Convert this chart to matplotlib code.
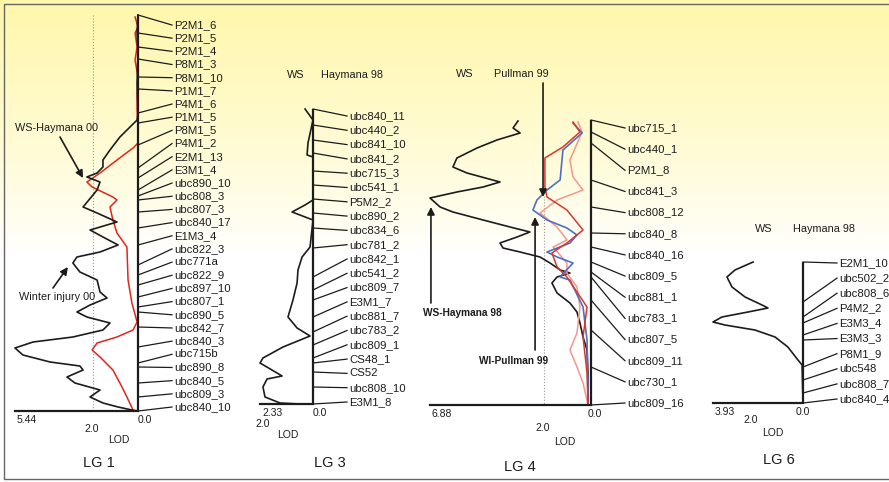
import numpy as np
import matplotlib.pyplot as plt

plt.rcParams['font.family'] = ['Liberation Sans', 'DejaVu Sans']

W, H = 889, 482
INK = '#1c1c1c'

# ---------------- data (positions in cM, LOD scores) ----------------
lod_max = {'LG 1': 5.44, 'LG 3': 2.33, 'LG 4': 6.88, 'LG 6': 3.93}

lg1_markers = ['P2M1_6', 'P2M1_5', 'P2M1_4', 'P8M1_3', 'P8M1_10', 'P1M1_7', 'P4M1_6',
               'P1M1_5', 'P8M1_5', 'P4M1_2', 'E2M1_13', 'E3M1_4', 'ubc890_10', 'ubc808_3',
               'ubc807_3', 'ubc840_17', 'E1M3_4', 'ubc822_3', 'ubc771a', 'ubc822_9',
               'ubc897_10', 'ubc807_1', 'ubc890_5', 'ubc842_7', 'ubc840_3', 'ubc715b',
               'ubc890_8', 'ubc840_5', 'ubc809_3', 'ubc840_10']
lg1_pos = [0, 9, 16, 22, 31, 37, 49, 54, 65, 76.5, 81.5, 87.5, 90.5, 92.5, 98.5, 106.5,
           115, 125, 130, 135, 141, 146, 148.5, 156, 166, 174, 176, 184, 191, 198]

# Winter injury 00 (black)
lg1_wi00_pos = [0, 9, 19, 34, 49, 52.5, 61, 67.5, 72.5, 76, 79, 81, 83.5, 87.5, 96, 99,
                103.5, 107.5, 111, 115, 118.5, 121, 124, 128.5, 132.5, 138.5, 141.5, 145,
                148.5, 151, 154, 157.5, 161, 163.5, 166.5, 170, 173.5, 175.5, 177.5, 181,
                184, 187.5, 191, 194, 196, 197.5, 198]
lg1_wi00_lod = [0, 0.04, 0, 0.04, 0, 0.04, 0.80, 1.24, 1.55, 1.55, 1.81, 2.26, 1.68, 1.81,
                2.43, 1.81, 0.93, 2.12, 1.55, 0.88, 1.68, 2.70, 2.88, 2.57, 1.81, 1.68, 1.37,
                2.12, 2.70, 2.26, 1.24, 1.55, 2.88, 4.64, 5.44, 5.09, 3.89, 2.57, 2.43, 3.14,
                2.79, 1.68, 2.12, 1.55, 0.88, 0.27, 0]
# WS-Haymana 00 (red)
lg1_ws00_pos = [1, 6, 9, 16, 22.5, 31, 39, 47.5, 56, 64, 66.5, 72.5, 79, 83.5, 86, 91,
                92.5, 96, 102.5, 109, 116, 132.5, 144, 153.5, 157.5, 161, 164, 167.5, 171,
                177.5, 184, 191, 197.5]
lg1_ws00_lod = [0.13, 0, 0.13, 0.04, 0.13, 0, 0.04, 0.04, 0, 0, 0.22, 0.93, 1.68, 2.26,
                2.03, 1.11, 0.93, 1.24, 1.11, 0.93, 0.49, 0.44, 0.27, 0.04, 0.22, 0.93, 1.81,
                2.03, 1.68, 1.11, 0.80, 0.49, 0.22]

lg3_markers = ['ubc840_11', 'ubc440_2', 'ubc841_10', 'ubc841_2', 'ubc715_3', 'ubc541_1',
               'P5M2_2', 'ubc890_2', 'ubc834_6', 'ubc781_2', 'ubc842_1', 'ubc541_2',
               'ubc809_7', 'E3M1_7', 'ubc881_7', 'ubc783_2', 'ubc809_1', 'CS48_1', 'CS52',
               'ubc808_10', 'E3M1_8']
lg3_pos = [0, 8, 15.5, 22, 31, 38, 45, 52, 59.5, 69.5, 84, 90.5, 95.5, 104, 111.5, 118,
           124.5, 127, 131.5, 139, 147.5]
lg3_ws98_pos = [0, 5.5, 17, 23, 24, 45.5, 48, 51.5, 55.5, 69, 74, 80.5, 87, 95.5, 104,
                109.5, 113.5, 119, 124.5, 127, 132, 133.5, 135, 139, 144, 147, 147.5]
lg3_ws98_lod = [0.35, 0, 0.22, 0.26, 0, 0, 0.35, 0.92, 0, 0.13, 0.48, 0.66, 0.70, 0.88,
                1.10, 0.70, 0.13, 1.32, 2.20, 2.33, 1.58, 1.36, 2.02, 2.20, 2.11, 1.45, 0.57]

lg4_markers = ['ubc715_1', 'ubc440_1', 'P2M1_8', 'ubc841_3', 'ubc808_12', 'ubc840_8',
               'ubc840_16', 'ubc809_5', 'ubc881_1', 'ubc783_1', 'ubc807_5', 'ubc809_11',
               'ubc730_1', 'ubc809_16']
lg4_pos = [0, 6, 11.5, 30, 43.5, 56.5, 63.5, 71, 76, 78.5, 90, 105, 123.5, 142.5]
# WS-Haymana 98 (black)
lg4_ws98_pos = [0.5, 4, 6.5, 10, 14, 19, 23.5, 26.5, 31, 33.5, 36, 39, 43.5, 46, 50, 53.5,
                56, 58.5, 61.5, 64, 66, 68.5, 71.5, 75, 76.5, 78.5, 81.5, 86.5, 91.5, 96,
                101.5, 108.5, 115, 126.5, 142.5]
lg4_ws98_lod = [3.12, 3.33, 3.03, 4.02, 4.87, 5.73, 5.90, 5.30, 3.89, 4.61, 5.73, 6.88,
                6.45, 5.90, 4.61, 3.46, 2.61, 3.16, 3.89, 3.76, 3.03, 2.18, 1.75, 1.32, 0.90,
                1.45, 1.67, 1.45, 0.90, 0.60, 0.47, 0.34, 0.17, 0.13, 0.13]
# WS-Pullman 99 (red)
lg4_wsp99_pos = [1, 6, 13.5, 19, 33.5, 38.5, 45, 55, 61.5, 66.5, 73.5, 78.5, 93.5, 108.5,
                 126.5, 142.5]
lg4_wsp99_lod = [0.77, 0.47, 1.20, 1.97, 1.97, 1.88, 1.03, 0.34, 1.03, 1.67, 1.45, 1.03,
                 0.17, 0.34, 0.17, 0.13]
# WI-Pullman 99 (blue)
lg4_wip99_pos = [1.5, 6.5, 15, 30, 35, 40, 45, 50, 54, 57.5, 61.5, 66, 68.5, 71.5, 78.5,
                 80, 93.5, 110, 135, 142.5]
lg4_wip99_lod = [0.77, 0.38, 1.20, 1.32, 1.88, 2.31, 2.48, 1.88, 1.03, 0.60, 0.90, 1.88,
                 1.45, 0.77, 1.32, 0.90, 0.34, 0.17, 0.13, 0.13]
# third Pullman 99 trait (light red)
lg4_p99b_pos = [1, 6, 20, 28.5, 35, 40, 46.5, 53.5, 60, 63.5, 71.5, 76.5, 83.5, 93.5,
                106.5, 115, 123.5, 131.5, 142.5]
lg4_p99b_lod = [0.56, 0.38, 0.90, 0.77, 0.34, 1.45, 2.18, 1.45, 1.03, 1.62, 1.03, 1.03,
                0.60, 0.47, 0.60, 0.90, 0.60, 0.34, 0.13]

lg6_markers = ['E2M1_10', 'ubc502_2', 'ubc808_6', 'P4M2_2', 'E3M3_4', 'E3M3_3', 'P8M1_9',
               'ubc548', 'ubc808_7', 'ubc840_4']
lg6_pos = [0, 20, 27.5, 30.5, 36.5, 39, 52.5, 59, 65.5, 70.5]
lg6_ws98_pos = [0, 4, 7.5, 12.5, 17.5, 21.5, 23, 25, 27.5, 30, 31.5, 34, 37.5, 42.5, 49,
                51.5, 70.5]
lg6_ws98_lod = [2.18, 2.97, 3.32, 3.10, 2.53, 1.79, 1.53, 2.40, 3.54, 3.93, 3.41, 2.10,
                1.22, 0.66, 0.22, 0.04, 0.0]

# ---------------- figure ----------------
fig = plt.figure(figsize=(W / 100, H / 100), dpi=100)

bg = fig.add_axes([0, 0, 1, 1], zorder=-10)
fade = np.clip(1 - np.linspace(0, 1, H) / 0.52, 0, 1) ** 0.8
img = np.ones((H, W, 3))
img[..., 2] -= 0.33 * fade[:, None]
img[..., 1] -= 0.03 * fade[:, None]
bg.imshow(img, aspect='auto', extent=[0, W, H, 0])
bg.set_xlim(0, W)
bg.set_ylim(H, 0)
bg.axis('off')
bg.plot([W, 4, 4, W], [4, 4, 479, 479], color='#666666', lw=1)


def panel(box, lodmax, names, pos, label_first, label_last):
    left, right, top, bottom = box
    ax = fig.add_axes([left / W, 1 - bottom / H, (right - left) / W, (bottom - top) / H])
    length = pos[-1]
    ax.set_xlim(lodmax, 0)
    ax.set_ylim(length, 0)
    ax.patch.set_visible(False)
    for s in ['top', 'left', 'right']:
        ax.spines[s].set_visible(False)
    ax.spines['bottom'].set_linewidth(1.6)
    ax.spines['bottom'].set_color(INK)
    ax.set_xticks([])
    ax.set_yticks([])
    ax.plot([0, 0], [0, length], color=INK, lw=1.6, clip_on=False,
            solid_capstyle='butt', zorder=3)
    px = lodmax / (right - left)  # LOD units per pixel
    lab_y = np.linspace(label_first, label_last, len(names))
    for n, p, ly in zip(names, pos, lab_y):
        ax.plot([0, -34 * px], [p, ly], color=INK, lw=0.9, clip_on=False)
        ax.text(-36 * px, ly, n, fontsize=8.2, va='center', ha='left', color=INK,
                clip_on=False)
    return ax, length


def axis_text(ax, length, lodmax, off_zero, off_two, off_lod, off_lg, lg):
    kw = dict(textcoords='offset pixels', color=INK, annotation_clip=False)
    ax.annotate(f'{lodmax:.2f}', xy=(lodmax, length), xytext=(2, -4), ha='left',
                va='top', fontsize=7.5, **kw)
    ax.annotate('0.0', xy=(0, length), xytext=(off_zero, -4), ha='center', va='top',
                fontsize=7.5, **kw)
    ax.annotate('2.0', xy=(2.0, length), xytext=off_two, ha='center', va='center',
                fontsize=7.5, **kw)
    ax.annotate('LOD', xy=(0, length), xytext=off_lod, ha='center', va='center',
                fontsize=7.5, **kw)
    ax.annotate(lg, xy=(0, length), xytext=off_lg, ha='center', va='center',
                fontsize=10.5, **kw)


arrow = dict(arrowstyle='-|>', color=INK, lw=1.2, mutation_scale=11, shrinkA=0, shrinkB=0)

# LG 1
ax1, L1 = panel((15, 138, 15, 411), lod_max['LG 1'], lg1_markers, lg1_pos, 5, 196)
ax1.plot([2.0, 2.0], [0, L1], color='#9a9a9a', lw=0.8, ls=':', zorder=0)
ax1.plot(lg1_ws00_lod, lg1_ws00_pos, color='#e0261d', lw=1.1, clip_on=False)
ax1.plot(lg1_wi00_lod, lg1_wi00_pos, color=INK, lw=1.2, clip_on=False)
ax1.annotate('', xy=(2.43, 81.5), xytext=(3.45, 61), arrowprops=arrow, annotation_clip=False)
ax1.annotate('', xy=(3.10, 126), xytext=(3.76, 136.5), arrowprops=arrow, annotation_clip=False)
ax1.text(3.6, 56.5, 'WS-Haymana 00', fontsize=7.8, ha='center', va='center', color=INK)
ax1.text(3.6, 141, 'Winter injury 00', fontsize=7.8, ha='center', va='center', color=INK)
axis_text(ax1, L1, lod_max['LG 1'], 7, (-1, -18), (-19, -29), (-39, -52), 'LG 1')

# LG 3
ax3, L3 = panel((260, 313, 109, 404), lod_max['LG 3'], lg3_markers, lg3_pos, 3.5, 146.5)
ax3.plot(lg3_ws98_lod, lg3_ws98_pos, color=INK, lw=1.2, clip_on=False)
axis_text(ax3, L3, lod_max['LG 3'], 7, (-5, -20), (-25, -31), (17, -59), 'LG 3')
bg.text(296, 75, 'WS', fontsize=7.8, ha='center', va='center', color=INK)
bg.text(352, 75, 'Haymana 98', fontsize=7.8, ha='center', va='center', color=INK)

# LG 4
ax4, L4 = panel((430, 591, 120, 405), lod_max['LG 4'], lg4_markers, lg4_pos, 4, 141.5)
ax4.plot([2.0, 2.0], [38, L4], color='#9a9a9a', lw=0.8, ls=':', zorder=0)
ax4.plot(lg4_ws98_lod, lg4_ws98_pos, color=INK, lw=1.2, clip_on=False)
ax4.plot(lg4_p99b_lod, lg4_p99b_pos, color='#f4978c', lw=1.1, clip_on=False)
ax4.plot(lg4_wip99_lod, lg4_wip99_pos, color='#4f6fc6', lw=1.2, clip_on=False)
ax4.plot(lg4_wsp99_lod, lg4_wsp99_pos, color='#d8382a', lw=1.1, clip_on=False)
ax4.annotate('', xy=(2.05, 38.5), xytext=(2.05, -18.5), arrowprops=arrow, annotation_clip=False)
ax4.annotate('', xy=(6.84, 43.5), xytext=(6.84, 91.5), arrowprops=arrow, annotation_clip=False)
ax4.annotate('', xy=(2.39, 48.5), xytext=(2.39, 115), arrowprops=arrow, annotation_clip=False)
ax4.text(5.5, 96.5, 'WS-Haymana 98', fontsize=7.3, fontweight='bold', ha='center',
         va='center', color=INK)
ax4.text(3.3, 120.5, 'WI-Pullman 99', fontsize=7.3, fontweight='bold', ha='center',
         va='center', color=INK)
axis_text(ax4, L4, lod_max['LG 4'], 4, (-2, -23), (-26, -37), (-71, -62), 'LG 4')
bg.text(465, 74, 'WS', fontsize=7.8, ha='center', va='center', color=INK)
bg.text(521, 74, 'Pullman 99', fontsize=7.8, ha='center', va='center', color=INK)

# LG 6
ax6, L6 = panel((713, 803, 262, 403), lod_max['LG 6'], lg6_markers, lg6_pos, 0.5, 68.5)
ax6.plot(lg6_ws98_lod, lg6_ws98_pos, color=INK, lw=1.2, clip_on=False)
axis_text(ax6, L6, lod_max['LG 6'], 0, (-7, -17), (-30, -30), (-24, -57), 'LG 6')
bg.text(764, 229, 'WS', fontsize=7.8, ha='center', va='center', color=INK)
bg.text(824, 229, 'Haymana 98', fontsize=7.8, ha='center', va='center', color=INK)

fig.savefig('out.png', dpi=100)
